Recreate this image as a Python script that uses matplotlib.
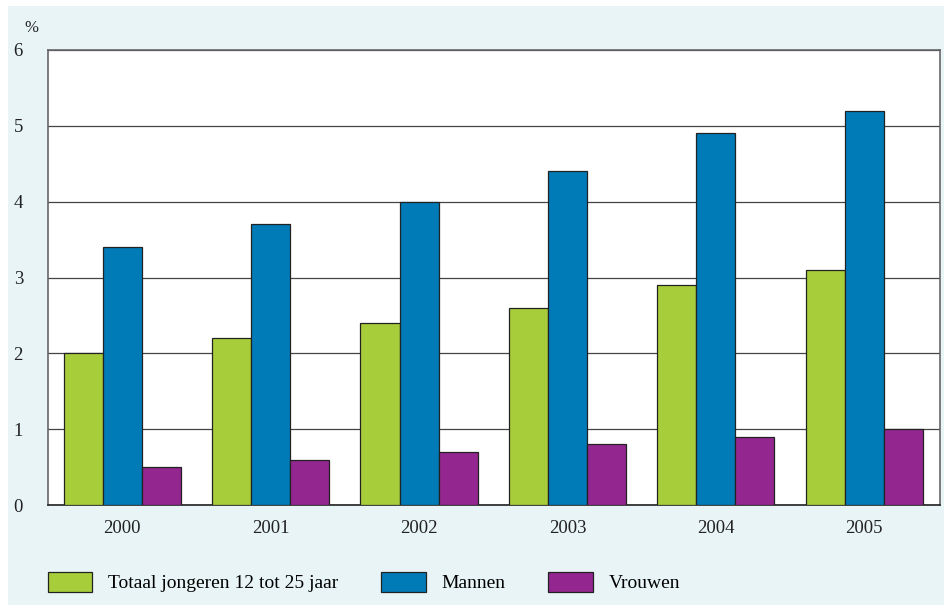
import numpy as np
import matplotlib.pyplot as plt
from matplotlib.patches import Patch

# Share of young people (%), by year
YEARS = ["2000", "2001", "2002", "2003", "2004", "2005"]
TOTAAL = [2.0, 2.2, 2.4, 2.6, 2.9, 3.1]
MANNEN = [3.4, 3.7, 4.0, 4.4, 4.9, 5.2]
VROUWEN = [0.5, 0.6, 0.7, 0.8, 0.9, 1.0]

LABELS = ["Totaal jongeren 12 tot 25 jaar", "Mannen", "Vrouwen"]
COLORS = ["#a8cd3a", "#007bb8", "#93278f"]
BG = "#e8f4f6"

plt.rcParams["font.family"] = ["Liberation Serif", "DejaVu Serif"]

fig = plt.figure(figsize=(9.45, 6.05), dpi=100)
fig.patch.set_facecolor("white")
# light panel behind the chart
fig.patches.append(plt.Rectangle((8 / 945, 0), 1, 1 - 6 / 605,
                                 transform=fig.transFigure, facecolor=BG,
                                 edgecolor="none", zorder=-1))

ax = fig.add_axes([48 / 945, 1 - 505 / 605, 892 / 945, 455 / 605])
ax.set_facecolor("white")

x = np.arange(len(YEARS))
w = 0.263
for i, (vals, col) in enumerate(zip([TOTAAL, MANNEN, VROUWEN], COLORS)):
    ax.bar(x + (i - 1) * w, vals, width=w, color=col, edgecolor="#222222",
           linewidth=0.9, zorder=3)

ax.set_xlim(-0.5, 5.51)
ax.set_ylim(0, 6)
ax.set_yticks(range(7))
ax.set_xticks(x)
ax.set_xticklabels(YEARS)
ax.yaxis.grid(True, color="#444444", linewidth=0.9, zorder=1)
ax.tick_params(length=0, labelsize=13.5, colors="#222222")
ax.tick_params(axis="x", pad=11)
ax.tick_params(axis="y", pad=18)
for s in ax.spines.values():
    s.set_color("#666666")
    s.set_linewidth(1.2)
ax.spines["bottom"].set_color("#222222")

fig.text(31 / 945, 1 - 28 / 605, "%", fontsize=12, color="#222222",
         ha="center", va="center")

handles = [Patch(facecolor=c, edgecolor="#222222", linewidth=0.9) for c in COLORS]
fig.legend(handles, LABELS, loc="center left", bbox_to_anchor=(40 / 945, 1 - 582 / 605),
           ncol=3, frameon=False, fontsize=14, handlelength=2.3, handleheight=1.25,
           handletextpad=0.8, columnspacing=2.2, borderaxespad=0)

fig.savefig("out.png", dpi=100, facecolor=fig.get_facecolor())
